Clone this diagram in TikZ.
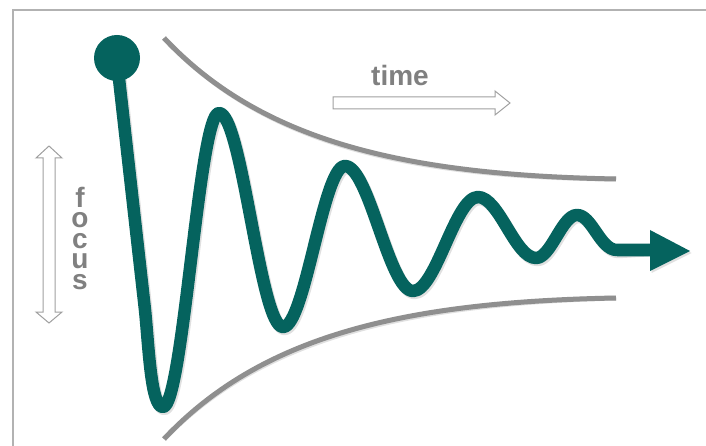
\documentclass[tikz,border=0pt]{standalone}
\usepackage{fontspec}
\setmainfont{Liberation Sans}
\definecolor{wavecol}{RGB}{5,99,94}
\definecolor{envgray}{RGB}{143,143,143}
\definecolor{arrgray}{RGB}{160,160,160}
\definecolor{txtgray}{RGB}{128,128,128}
\definecolor{framegray}{RGB}{178,178,178}
\newcommand\stackletter[1]{\hbox to 20pt{\hss#1\hss}}
\begin{document}
\begin{tikzpicture}[x=1pt,y=-1pt,
  wave/.style={draw=wavecol, line width=12.5pt, line cap=round, line join=round},
  env/.style={draw=envgray, line width=5pt},
  shade/.style={draw=black, opacity=0.12, shift={(1.5,2)}},
  hollow/.style={draw=arrgray, fill=white, line width=1pt, line join=miter},
  lbl/.style={text=txtgray, font=\fontsize{28}{28}\selectfont\bfseries, inner sep=0pt}]
\useasboundingbox (0,0) rectangle (706,446);
\fill[white] (0,0) rectangle (706,446);
% frame
\draw[framegray, line width=1.5pt] (13,450) -- (13,10) -- (710,10);
% envelope
\coordinate (u0) at (164,38);
\coordinate (u1) at (616,179);
\coordinate (l0) at (164,439);
\coordinate (l1) at (616,298);
\draw[env, shade] (u0) .. controls (260,140) and (400,175) .. (u1);
\draw[env, shade] (l0) .. controls (260,337) and (400,302) .. (l1);
\draw[env] (u0) .. controls (260,140) and (400,175) .. (u1);
\draw[env] (l0) .. controls (260,337) and (400,302) .. (l1);
% wave
\coordinate (ball) at (117,58);
\coordinate (tip) at (652,250);
\def\wavepath{(118,70) -- (145,310) .. controls (149,350) and (151,407) .. (163,407)
 .. controls (183,407) and (199,113) .. (219,113)
 .. controls (242,113) and (260,327) .. (283,327)
 .. controls (305,327) and (323,166) .. (345,166)
 .. controls (369,166) and (389,291) .. (413,291)
 .. controls (436,291) and (455,197) .. (478,197)
 .. controls (499,197) and (515,258) .. (536,258)
 .. controls (551,258) and (562,215) .. (577,215)
 .. controls (592,215) and (600,250) .. (617,250)
 -- (tip)}
\draw[wave, shade] \wavepath;
\draw[wave] \wavepath;
\fill[black, opacity=0.12, shift={(1.5,2)}] (650,230) -- (690,251) -- (650,271) -- cycle;
\fill[wavecol] (650,230) -- (690,251) -- (650,271) -- cycle;
\fill[wavecol] (ball) circle (23pt);
% time arrow
\draw[hollow] (333,97) -- (495,97) -- (495,91) -- (510,103) -- (495,115) -- (495,109) -- (333,109) -- cycle;
\node[lbl, anchor=base] (time) at (400,86) {time};
% focus arrow
\draw[hollow] (49,146) -- (62,158) -- (55,158) -- (55,312) -- (62,312) -- (49,323) -- (36,312) -- (43,312) -- (43,158) -- (36,158) -- cycle;
\node[lbl, anchor=north] (focus) at (80,187) {\vbox{\baselineskip=20.5pt\lineskiplimit=-100pt
  \stackletter{f}\stackletter{o}\stackletter{c}\stackletter{u}\stackletter{s}}};
\end{tikzpicture}
\end{document}
